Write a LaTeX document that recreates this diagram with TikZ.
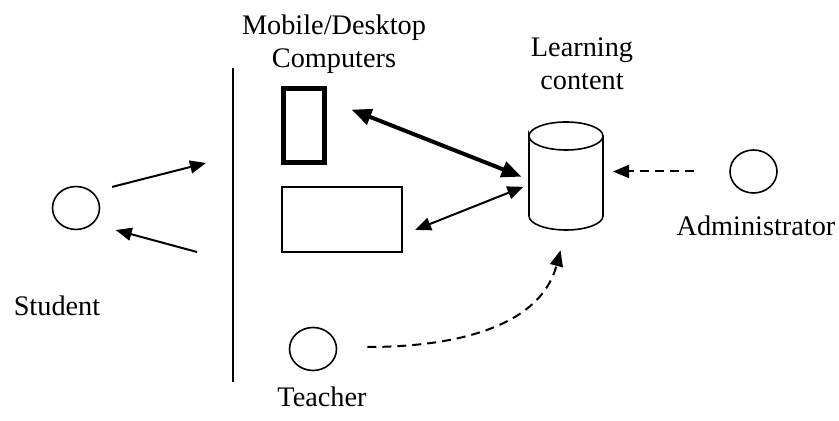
\documentclass[tikz,border=0pt]{standalone}
\usepackage{fontspec}
\setmainfont{Liberation Serif}
\usetikzlibrary{positioning,arrows.meta,shapes.geometric}

\begin{document}
\begin{tikzpicture}[
		x=0.5pt, y=-0.5pt,
		actor/.style={ellipse, draw=black, line width=0.8pt, minimum width=23.5pt, minimum height=21.5pt, inner sep=0pt},
		label/.style={font=\fontsize{14.15}{16.5}\selectfont, inner sep=0pt, anchor=base, align=center},
		link/.style={line width=1pt, -{Triangle[length=8pt, width=6.5pt]}},
		biglink/.style={line width=2pt, {Triangle[length=10pt, width=8pt]}-{Triangle[length=10pt, width=8pt]}},
		dashlink/.style={line width=1pt, dash pattern=on 4.5pt off 3pt, -{Triangle[length=8pt, width=6.5pt]}}
	]
	\useasboundingbox (0,0) rectangle (839,421);

	% actors
	\node[actor] (student) at (76,208) {};
	\node[actor] (teacher) at (313,349) {};
	\node[actor] (admin) at (753.5,171.5) {};

	\node[label] (studentlbl) at (57,316) {Student};
	\node[label] (teacherlbl) at (322,407) {Teacher};
	\node[label] (adminlbl) at (756,236) {Administrator};

	% screen
	\coordinate (bartop) at (233,68);
	\coordinate (barbot) at (233,382);
	\draw[line width=1pt] (bartop) -- (barbot);

	% devices
	\node[draw=black, line width=2.5pt, minimum width=20.5pt, minimum height=37pt, inner sep=0pt, outer sep=0pt] (mobile) at (304,125.5) {};
	\node[draw=black, line width=0.75pt, minimum width=60pt, minimum height=32.5pt, inner sep=0pt, outer sep=0pt] (desktop) at (342,219.5) {};
	\node[label] (devlbl) at (334,68) {Mobile/Desktop\\Computers};

	% content store
	\node[minimum width=37pt, minimum height=54pt, inner sep=0pt, outer sep=0pt] (db) at (566,176) {};
	\draw[line width=0.8pt] ([yshift=-7pt]db.north west) arc[start angle=180, end angle=-180, x radius=18.5pt, y radius=7pt]
		-- ([yshift=7pt]db.south west) arc[start angle=180, end angle=360, x radius=18.5pt, y radius=7pt]
		-- ([yshift=-7pt]db.north east);
	\node[label] (dblbl) at (582,90) {Learning\\content};

	% student <-> screen
	\coordinate (sin) at (206,163);
	\coordinate (sout) at (197,252);
	\draw[link, shorten <=10pt] (student.44) -- (sin);
	\draw[link, shorten >=11.75pt] (sout) -- (student.-43);

	% devices <-> content
	\draw[biglink, shorten <=14.5pt, shorten >=4pt] ([yshift=13.25pt]mobile.east) -- ([yshift=-1.8pt]db.west);
	\draw[link, {Triangle[length=8pt, width=6.5pt]}-{Triangle[length=8pt, width=6.5pt]}, shorten <=7pt, shorten >=3pt] ([yshift=-7.8pt]desktop.east) -- ([yshift=-4.3pt]db.west);

	% maintenance
	\draw[dashlink, shorten <=17.5pt, shorten >=5pt] (admin.west) -- (admin.west -| db.east);
	\draw[dashlink, shorten <=15pt, shorten >=10.5pt] ([yshift=1pt]teacher.east) to[out=0, in=-105, looseness=1.05] (db.south);

\end{tikzpicture}
\end{document}
